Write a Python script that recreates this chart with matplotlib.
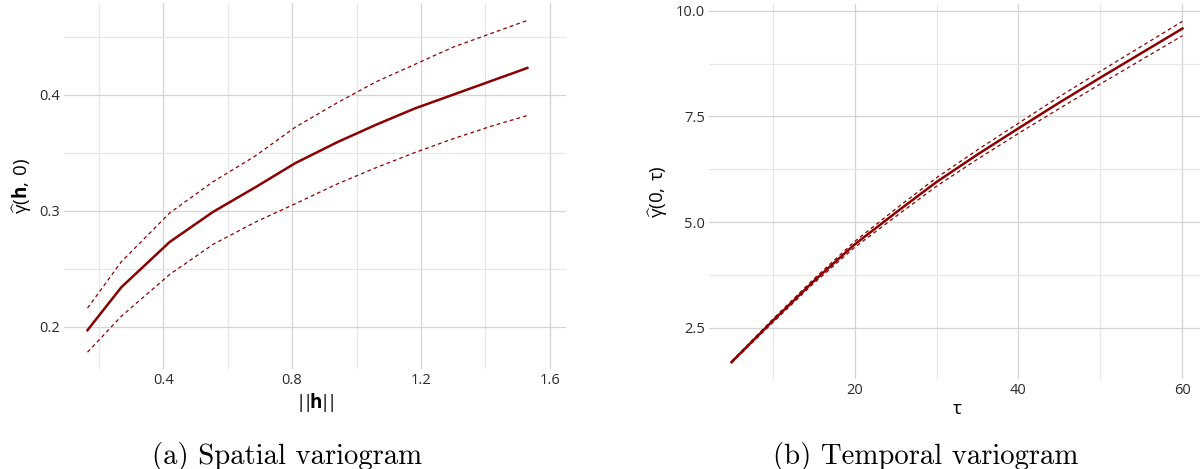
import numpy as np
import matplotlib
matplotlib.use("Agg")
import matplotlib.pyplot as plt
from matplotlib.ticker import MultipleLocator

plt.rcParams['font.family'] = ['Open Sans', 'DejaVu Sans']
plt.rcParams['mathtext.fontset'] = 'custom'
plt.rcParams['mathtext.rm'] = 'Open Sans'
plt.rcParams['mathtext.it'] = 'Open Sans'
plt.rcParams['mathtext.bf'] = 'Open Sans:bold'

# spatial variogram (panel a)
h_dist = [0.165, 0.27, 0.42, 0.555, 0.685, 0.81, 0.94, 1.06, 1.18, 1.30, 1.42, 1.53]
gam_h = [0.197, 0.234, 0.273, 0.299, 0.320, 0.341, 0.359, 0.374, 0.388, 0.400, 0.412, 0.423]
gam_h_up = [0.216, 0.256, 0.298, 0.325, 0.347, 0.372, 0.393, 0.411, 0.426, 0.441, 0.453, 0.464]
gam_h_lo = [0.178, 0.209, 0.245, 0.271, 0.290, 0.306, 0.323, 0.337, 0.350, 0.362, 0.373, 0.382]

# temporal variogram (panel b)
tau = [5, 10, 15, 20, 25, 30, 35, 40, 45, 50, 55, 60]
gam_t = [1.69, 2.66, 3.60, 4.47, 5.22, 5.95, 6.60, 7.22, 7.83, 8.42, 9.00, 9.58]
gam_t_up = [1.71, 2.70, 3.65, 4.54, 5.31, 6.05, 6.71, 7.34, 7.97, 8.57, 9.16, 9.75]
gam_t_lo = [1.67, 2.62, 3.55, 4.40, 5.13, 5.85, 6.49, 7.10, 7.69, 8.27, 8.84, 9.41]

col = '#8b0000'
major_c = '#d4d4d4'
minor_c = '#e6e6e6'

fig = plt.figure(figsize=(12, 4.69), dpi=100)
ax1 = fig.add_axes([64/1200, 1-369/469, (566-64)/1200, 366/469])
ax2 = fig.add_axes([709/1200, 1-379/469, (1205-709)/1200, 375/469])


def style(ax):
    for s in ax.spines.values():
        s.set_visible(False)
    ax.grid(which='major', color=major_c, lw=0.9)
    ax.grid(which='minor', color=minor_c, lw=0.8)
    ax.set_axisbelow(True)
    ax.tick_params(which='both', length=0, labelsize=10.5, colors='#2b2b2b', pad=3)


ax1.plot(h_dist, gam_h, color=col, lw=1.8)
ax1.plot(h_dist, gam_h_up, color=col, lw=0.9, ls=(0, (3, 2.5)))
ax1.plot(h_dist, gam_h_lo, color=col, lw=0.9, ls=(0, (3, 2.5)))
ax1.set_xlim(0.092, 1.65)
ax1.set_ylim(0.1635, 0.479)
ax1.xaxis.set_minor_locator(MultipleLocator(0.2))
ax1.yaxis.set_minor_locator(MultipleLocator(0.05))
ax1.set_xticks([0.4, 0.8, 1.2, 1.6])
ax1.set_xticklabels(['0.4', '0.8', '1.2', '1.6'])
ax1.set_yticks([0.2, 0.3, 0.4])
ax1.set_yticklabels(['0.2', '0.3', '0.4'])
style(ax1)
ax1.set_xlabel(r'$|\!|\!\mathbf{h}\!|\!|$', fontsize=13.5, labelpad=2)
ax1.set_ylabel(r'$\widehat{\gamma}(\mathbf{h},\,0)$', fontsize=13.5, labelpad=4)

ax2.plot(tau, gam_t, color=col, lw=1.8)
ax2.plot(tau, gam_t_up, color=col, lw=0.9, ls=(0, (3, 2.5)))
ax2.plot(tau, gam_t_lo, color=col, lw=0.9, ls=(0, (3, 2.5)))
ax2.set_xlim(2.25, 62.75)
ax2.set_ylim(1.29, 10.16)
ax2.xaxis.set_minor_locator(MultipleLocator(10))
ax2.yaxis.set_minor_locator(MultipleLocator(1.25))
ax2.set_xticks([20, 40, 60])
ax2.set_yticks([2.5, 5.0, 7.5, 10.0])
ax2.set_yticklabels(['2.5', '5.0', '7.5', '10.0'])
style(ax2)
ax2.set_xlabel(r'$\tau$', fontsize=13.5, labelpad=1)
ax2.set_ylabel(r'$\widehat{\gamma}(0,\,\tau)$', fontsize=13.5, labelpad=4)

fig.text(287/1200, 1-456/469, '(a) Spatial variogram', family='cmr10', fontsize=20.7,
         ha='center', va='center')
fig.text(926/1200, 1-456/469, '(b) Temporal variogram', family='cmr10', fontsize=20.7,
         ha='center', va='center')

fig.savefig('out.png', dpi=100)
